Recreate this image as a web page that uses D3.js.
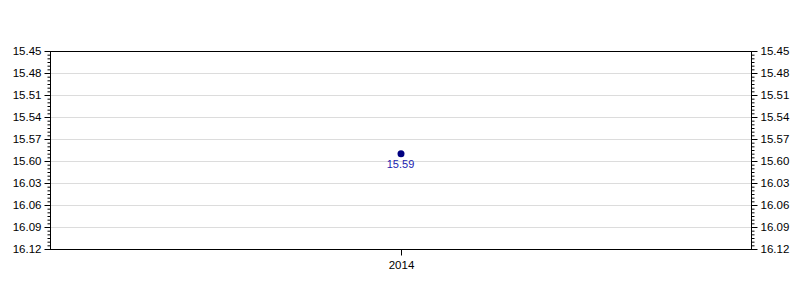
<!DOCTYPE html>
<html>
<head>
<script src="https://d3js.org/d3.v7.min.js"></script>
<style>
  body { margin: 0; background: #fff; }
  text { font-family: "Liberation Sans", Arial, sans-serif; }
</style>
</head>
<body>
<svg id="chart" width="800" height="300"></svg>
<script>
// data (times are min.sec)
const years = ["2014"];
const times = ["15.59"];
const tickLabels = ["15.45", "15.48", "15.51", "15.54", "15.57", "15.60", "16.03", "16.06", "16.09", "16.12"];

// "15.59" -> seconds
function toSec(s) {
  let p = s.split(".");
  return (+p[0]) * 60 + (+p[1]);
}

let margin = {top: 51, right: 49, bottom: 51, left: 50};
let width = 800, height = 300;
let svg = d3.select("#chart");

let tickSecs = tickLabels.map(toSec);
let y = d3.scaleLinear()
  .domain([d3.min(tickSecs), d3.max(tickSecs)])
  .range([margin.top, height - margin.bottom]);

let x = d3.scalePoint()
  .domain(years)
  .range([margin.left, width - margin.right])
  .padding(0.5);

// gridlines
svg.append("g").selectAll("line")
  .data(tickSecs)
  .enter().append("line")
  .attr("x1", margin.left).attr("x2", width - margin.right)
  .attr("y1", d => Math.round(y(d)) + 0.5).attr("y2", d => Math.round(y(d)) + 0.5)
  .attr("stroke", "#dcdcdc");

// minor ticks every half second
let minor = d3.range(d3.min(tickSecs), d3.max(tickSecs) + 0.01, 0.5);
let labelFor = {};
tickSecs.forEach((s, i) => labelFor[s] = tickLabels[i]);

let yl = d3.axisLeft(y).tickValues(minor)
  .tickSize(0).tickFormat(d => labelFor[d] || "");
let yr = d3.axisRight(y).tickValues(minor)
  .tickSize(0).tickFormat(d => labelFor[d] || "");

function styleAxis(g, side) {
  g.select(".domain").remove();
  g.selectAll(".tick line")
    .attr("stroke", "#000")
    .attr("x2", d => (labelFor[d] ? 6 : 3) * side);
  g.selectAll(".tick text")
    .attr("x", 9 * side)
    .attr("font-size", 11.5)
    .attr("fill", "#000");
}

svg.append("g")
  .attr("transform", `translate(${margin.left + 0.5},0)`)
  .call(yl)
  .call(g => styleAxis(g, -1));

svg.append("g")
  .attr("transform", `translate(${width - margin.right + 0.5},0)`)
  .call(yr)
  .call(g => styleAxis(g, 1));

// frame
svg.append("rect")
  .attr("x", margin.left + 0.5).attr("y", margin.top + 0.5)
  .attr("width", width - margin.right - margin.left)
  .attr("height", height - margin.bottom - margin.top)
  .attr("fill", "none").attr("stroke", "#000");

// x axis
let xa = d3.axisBottom(x).tickSize(6).tickPadding(5);
svg.append("g")
  .attr("transform", `translate(0.5,${height - margin.bottom + 0.5})`)
  .call(xa)
  .call(g => {
    g.select(".domain").remove();
    g.selectAll(".tick text").attr("font-size", 11.5).attr("fill", "#000");
  });

// points
let pts = years.map((yr, i) => ({year: yr, t: times[i]}));
svg.append("g").selectAll("circle")
  .data(pts)
  .enter().append("circle")
  .attr("cx", d => x(d.year) + 0.5)
  .attr("cy", d => y(toSec(d.t)))
  .attr("r", 3.5)
  .attr("fill", "#000080");

svg.append("g").selectAll("text")
  .data(pts)
  .enter().append("text")
  .attr("x", d => x(d.year))
  .attr("y", d => y(toSec(d.t)) + 14)
  .attr("text-anchor", "middle")
  .attr("font-size", 11)
  .attr("fill", "#1a1ab0")
  .text(d => d.t);
</script>
</body>
</html>
